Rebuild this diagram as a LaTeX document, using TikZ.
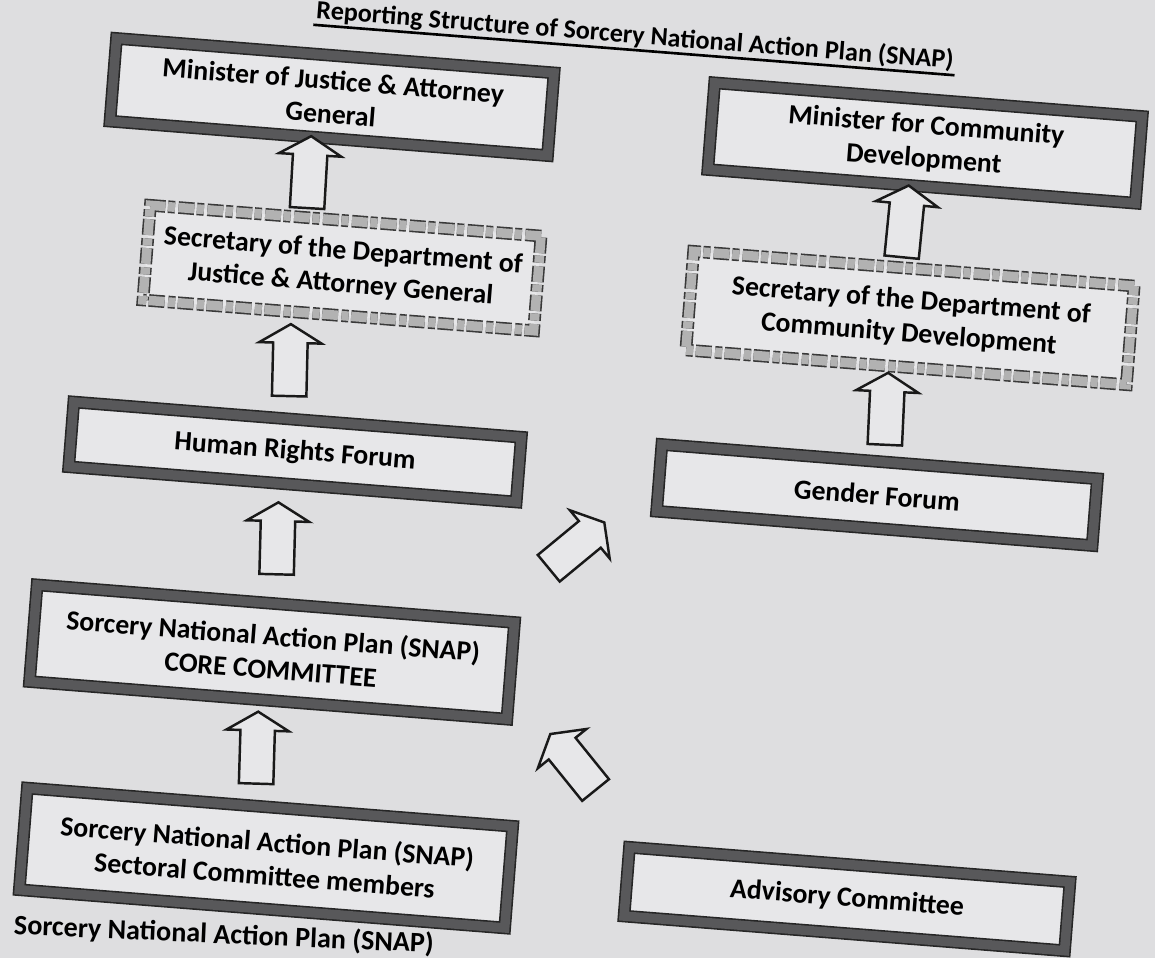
\documentclass[tikz,border=0pt]{standalone}
\usepackage{fontspec}
\setmainfont{Carlito}
\usepackage{xcolor}
\usepackage{tikz}
\usetikzlibrary{positioning,calc,shapes.arrows}

\definecolor{paper}{RGB}{222,222,224}
\definecolor{boxfill}{RGB}{231,231,233}
\definecolor{frame}{RGB}{88,88,90}

\begin{document}
\begin{tikzpicture}[
    % --- one unit = one pixel of the scan ---
    x=0.02cm, y=-0.02cm,
    % --- boxes ---
    box/.style={
        rectangle, draw=black!85, line width=0.9pt,
        double=frame, double distance=0.19cm,
        fill=boxfill, align=center, inner sep=0pt,
        rotate=-4.5,
        font=\bfseries\fontsize{15.8}{19}\selectfont
    },
    % grey, broken frame of the two secretaries
    secbox/.style={
        box, draw=gray!45!black, double=gray!60,
        dash pattern=on 9pt off 2pt on 4pt off 1.5pt
    },
    % hollow block arrow between two boxes
    blockarr/.style={
        single arrow, draw=black!90, line width=1.4pt, fill=boxfill,
        minimum height=1.44cm, inner xsep=0pt, inner ysep=0.32cm,
        single arrow head extend=0.28cm, single arrow tip angle=118,
        sloped, allow upside down
    },
    heading/.style={
        font=\bfseries\fontsize{14.9}{17}\selectfont,
        rotate=-4.5, inner sep=1pt
    }
    ]
    \useasboundingbox (0,0) rectangle (1155,958);
    \fill[paper] (0,0) rectangle (1155,958);

    % Heading
    \node[heading] (ttl) at (635,36) {Reporting Structure of Sorcery National Action Plan (SNAP)};
    \draw[line width=1.5pt] (ttl.south west) -- (ttl.south east);

    % Left column
    \node[box, minimum width=8.78cm, minimum height=1.66cm] (minJ) at (332,97) {Minister of Justice \& Attorney\\General};
    \node[secbox, minimum width=7.84cm, minimum height=1.9cm] (secJ) at (342,268) {Secretary of the Department of\\Justice \& Attorney General};
    \node[box, minimum width=8.98cm, minimum height=1.3cm] (hrf) at (295,452) {Human Rights Forum};
    \node[box, minimum width=9.58cm, minimum height=1.94cm] (core) at (272,652) {Sorcery National Action Plan (SNAP)\\CORE COMMITTEE};
    \node[box, minimum width=9.74cm, minimum height=2.04cm] (sect) at (266,858) {Sorcery National Action Plan (SNAP)\\Sectoral Committee members};

    % Right column
    \node[box, minimum width=8.58cm, minimum height=1.74cm] (minC) at (925,143) {Minister for Community\\Development};
    \node[secbox, minimum width=8.84cm, minimum height=1.98cm] (secC) at (910,318) {Secretary of the Department of\\Community Development};
    \node[box, minimum width=8.74cm, minimum height=1.34cm] (gf) at (877,495) {Gender Forum};
    \node[box, minimum width=8.84cm, minimum height=1.38cm] (adv) at (847,899) {Advisory Committee};

    % Arrows, lower box to upper box
    \path ($(secJ.north west)!0.40!(secJ.north east)$) -- node[blockarr] (a1) {} ($(minJ.south west)!0.46!(minJ.south east)$);
    \path ($(hrf.north west)!0.48!(hrf.north east)$) -- node[blockarr] (a2) {} ($(secJ.south west)!0.38!(secJ.south east)$);
    \path ($(core.north west)!0.50!(core.north east)$) -- node[blockarr] (a3) {} ($(hrf.south west)!0.47!(hrf.south east)$);
    \path ($(sect.north west)!0.47!(sect.north east)$) -- node[blockarr] (a4) {} ($(core.south west)!0.48!(core.south east)$);
    \path ($(secC.north west)!0.47!(secC.north east)$) -- node[blockarr] (a5) {} ($(minC.south west)!0.47!(minC.south east)$);
    \path ($(gf.north west)!0.51!(gf.north east)$) -- node[blockarr] (a6) {} ($(secC.south west)!0.46!(secC.south east)$);
    \path ($(core.north west)!0.94!(core.north east)$) -- node[blockarr] (a7) {} (gf.west);
    \path ($(adv.north west)!0.03!(adv.north east)$) -- node[blockarr] (a8) {} ($(core.north east)!0.64!(core.south east)$);

    % Cut-off line under the chart
    \node[heading, anchor=west, rotate=2, font=\bfseries\fontsize{16}{18}\selectfont] (cap) at (12,926) {Sorcery National Action Plan (SNAP)};
\end{tikzpicture}
\end{document}
